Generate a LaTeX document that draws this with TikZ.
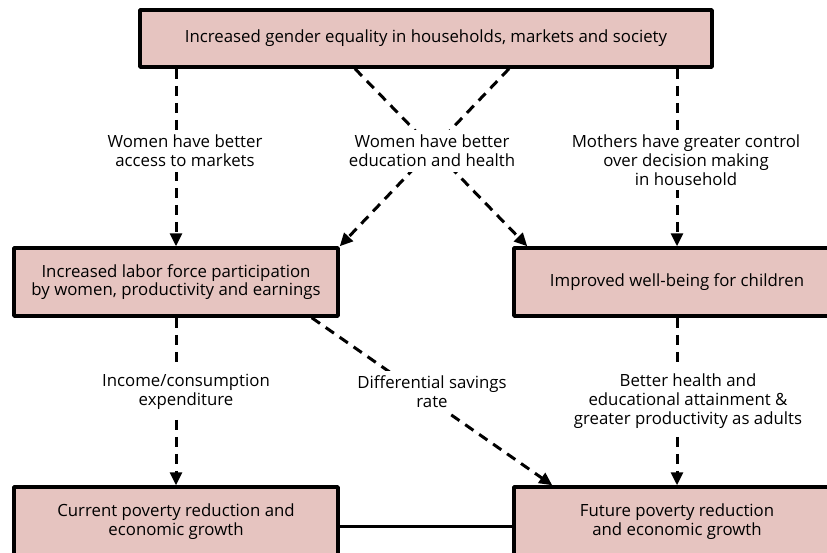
\documentclass[tikz,border=0pt]{standalone}
\usepackage{fontspec}
\setmainfont{Open Sans}
\usetikzlibrary{arrows.meta}
\definecolor{boxpink}{RGB}{230,196,192}
\begin{document}
\begin{tikzpicture}[x=1pt,y=-1pt,font=\fontsize{16.8}{18.8}\selectfont, line join=round, >={Triangle[length=13pt,width=12pt]}]
			\tikzset{kbox/.style={draw,line width=3.5pt,fill=boxpink,inner sep=0pt,align=center},
				kdash/.style={->,line width=3pt,dash pattern=on 10pt off 7pt},
				klab/.style={fill=white,align=center,inner sep=5pt}}
			\useasboundingbox (0,0) rectangle (827,552);
			\node[kbox,minimum width=572pt,minimum height=57pt] (gender) at (426,38.5) {Increased gender equality in households, markets and society};
			\node[kbox,minimum width=324pt,minimum height=68pt] (labor) at (176,282) {Increased labor force participation\\by women, productivity and earnings};
			\node[kbox,minimum width=326pt,minimum height=68pt] (child) at (677,282) {Improved well-being for children};
			\node[kbox,minimum width=324pt,minimum height=70pt] (current) at (176,522) {Current poverty reduction and\\economic growth};
			\node[kbox,minimum width=326pt,minimum height=70pt] (future) at (677,522) {Future poverty reduction\\and economic growth};
			\foreach \s/\t in {gender/labor, gender/child, labor/current, child/future}
			\draw[kdash] (\s.south -| \t.north) -- (\t.north);
			\draw[kdash] ([xshift=-71pt]gender.south) -- ([xshift=15pt]child.north west);
			\draw[kdash] ([xshift=83pt]gender.south) -- (labor.north east);
			\draw[kdash] ([xshift=-28pt]labor.south east) -- ([xshift=40pt]future.north west);
			\draw[line width=3pt] ([yshift=-4pt]current.east) -- ([yshift=-4pt]future.west);
			\node[klab] (lmkt) at (185,151) {Women have better\\access to markets};
			\node[klab] (ledu) at (432,151) {Women have better\\education and health};
			\node[klab] (lctl) at (686,160) {Mothers have greater control\\over decision making\\in household};
			\node[klab] (linc) at (186,392) {Income/consumption\\expenditure};
			\node[klab] (lsav) at (432,392) {Differential savings\\rate};
			\node[klab] (lhlt) at (688,401) {Better health and\\educational attainment \&\\greater productivity as adults};
	\end{tikzpicture}
\end{document}
